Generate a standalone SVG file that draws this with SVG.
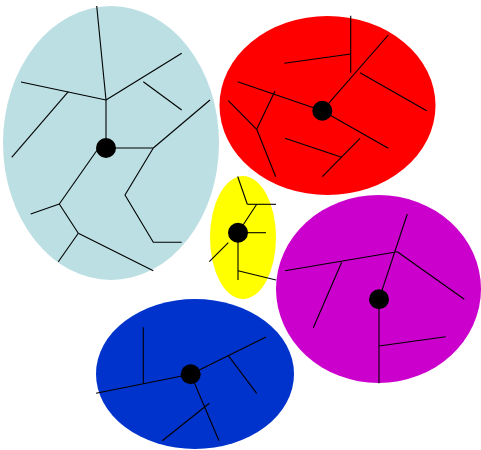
<svg xmlns="http://www.w3.org/2000/svg" width="481" height="450" viewBox="0 0 481 450">
<style>
.dot{fill:#000}
.ln line,.ln polyline{stroke:#000;stroke-width:1.1;fill:none}
</style>
<rect width="481" height="450" fill="#fff"/>
<g id="cell-lightblue"><ellipse cx="111" cy="143" rx="108" ry="137" fill="#bbdfe3"/></g>
<g id="cell-red"><ellipse cx="327.5" cy="105.5" rx="108" ry="89.5" fill="#ff0000"/></g>
<g id="cell-yellow"><ellipse cx="243" cy="237.5" rx="33" ry="61.5" fill="#ffff00"/></g>
<g id="cell-magenta"><ellipse cx="378.5" cy="289" rx="102.5" ry="94" fill="#cc00cc"/></g>
<g id="cell-blue"><ellipse cx="195" cy="374" rx="99" ry="75" fill="#0033cc"/></g>
<g id="connectors" class="ln">
<line x1="96.7" y1="6" x2="106" y2="100"/>
<line x1="106" y1="100" x2="106" y2="140"/>
<line x1="21" y1="82" x2="106" y2="100"/>
<line x1="106" y1="100" x2="181.7" y2="53.3"/>
<line x1="143.3" y1="81.7" x2="181.7" y2="110"/>
<line x1="68.3" y1="91.7" x2="11.7" y2="157.3"/>
<line x1="106" y1="148" x2="153.3" y2="148"/>
<line x1="153.3" y1="148" x2="210" y2="100"/>
<polyline points="153.3,148 125,195 153.3,242.3 181.7,242.3"/>
<line x1="100" y1="146" x2="59.3" y2="204"/>
<line x1="59.3" y1="204" x2="30.7" y2="214"/>
<line x1="59.3" y1="204" x2="78.3" y2="233.3"/>
<line x1="78.3" y1="233.3" x2="153.3" y2="270.7"/>
<line x1="78.3" y1="233.3" x2="58.3" y2="261.7"/>

<line x1="350.7" y1="15.7" x2="350.7" y2="72.7"/>
<line x1="284.3" y1="63.3" x2="350.7" y2="54"/>
<line x1="388.3" y1="35" x2="322.3" y2="110.7"/>
<line x1="360" y1="72.7" x2="426.7" y2="110.7"/>
<line x1="237.7" y1="81.7" x2="322.3" y2="110.7"/>
<line x1="228.3" y1="100.7" x2="256.7" y2="129.3"/>
<line x1="256.7" y1="129.3" x2="275" y2="91"/>
<line x1="256.7" y1="129.3" x2="275.7" y2="176.7"/>
<line x1="322.3" y1="110.7" x2="388.3" y2="148.3"/>
<line x1="285" y1="138.3" x2="341.7" y2="157.3"/>
<line x1="360" y1="138.3" x2="322.3" y2="176.7"/>

<line x1="237.7" y1="176.5" x2="247.3" y2="204.3"/>
<line x1="247.3" y1="204.3" x2="276" y2="204.3"/>
<line x1="256.7" y1="204.3" x2="238" y2="232.7"/>
<line x1="238" y1="232.7" x2="266" y2="232.7"/>
<line x1="228.3" y1="242.7" x2="209.3" y2="261.7"/>
<line x1="238" y1="232.7" x2="238" y2="280"/>
<line x1="238" y1="270.7" x2="276" y2="280"/>

<line x1="407.3" y1="214" x2="379" y2="299.3"/>
<line x1="285" y1="270.7" x2="397.3" y2="251.7"/>
<line x1="397.3" y1="251.7" x2="464.3" y2="299.3"/>
<line x1="341.7" y1="262.3" x2="313.3" y2="327.7"/>
<line x1="379" y1="299.3" x2="379" y2="383.3"/>
<line x1="379" y1="346" x2="445.7" y2="336.7"/>

<line x1="96" y1="393.3" x2="190.7" y2="374.3"/>
<line x1="143.3" y1="327.3" x2="143.3" y2="384"/>
<line x1="190.7" y1="374.3" x2="266" y2="337"/>
<line x1="228.3" y1="355.7" x2="256.7" y2="393.3"/>
<line x1="190.7" y1="374.3" x2="219" y2="440.7"/>
<line x1="209.3" y1="403.3" x2="162.3" y2="440.7"/>
</g>
<g id="nucleus-lightblue"><circle class="dot" cx="106" cy="148" r="10"/></g>
<g id="nucleus-red"><circle class="dot" cx="322.3" cy="110.7" r="10"/></g>
<g id="nucleus-yellow"><circle class="dot" cx="238" cy="232.7" r="10"/></g>
<g id="nucleus-magenta"><circle class="dot" cx="379" cy="299.3" r="10"/></g>
<g id="nucleus-blue"><circle class="dot" cx="190.7" cy="374.3" r="10"/></g>
</svg>
